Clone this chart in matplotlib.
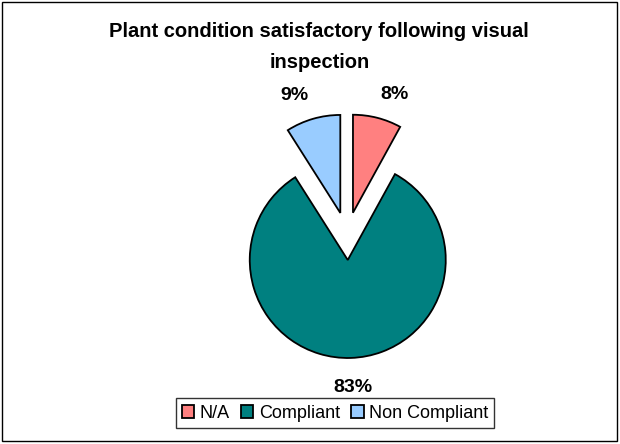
import matplotlib
matplotlib.use("Agg")
from matplotlib import pyplot as plt
from matplotlib.patches import Rectangle

plt.rcParams['font.family'] = ['Liberation Sans', 'DejaVu Sans']

labels = ['N/A', 'Compliant', 'Non Compliant']
values = [8, 83, 9]
colors = ['#FF8080', '#008080', '#99CCFF']
explode = [0.24, 0.24, 0.24]


def main():
    fig = plt.figure(figsize=(6.2, 4.44), dpi=100)
    fig.patches.append(Rectangle((0.003, 0.006), 0.992, 0.99, transform=fig.transFigure,
                                 fill=False, edgecolor='black', linewidth=1))

    # pie axes: 100 px per unit, centre at (347, 236) in image pixels
    ax = fig.add_axes([197 / 620, 58 / 444, 300 / 620, 300 / 444])
    wedges, _, autotexts = ax.pie(values, colors=colors, explode=explode, radius=0.98,
                                  startangle=90, counterclock=False,
                                  autopct='%1.0f%%', pctdistance=1.3,
                                  wedgeprops=dict(edgecolor='black', linewidth=1.3))
    for t in autotexts:
        t.set_fontsize(14)
        t.set_fontweight('bold')
        # excel spreads the labels a bit wider than matplotlib does
        x, y = t.get_position()
        t.set_position((x * 1.25, y - 0.05 if y > 0 else y))
    ax.set_xlim(-1.5, 1.5)
    ax.set_ylim(-1.5, 1.5)
    ax.set_aspect('equal')
    ax.axis('off')

    fig.text(0.515, 1 - 47 / 444, "Plant condition satisfactory following visual\ninspection",
             ha='center', va='center', fontsize=14.5, fontweight='bold', linespacing=1.75)

    leg = fig.legend(wedges, labels, loc='center', bbox_to_anchor=(335 / 620, 1 - 413 / 444),
                     ncol=3, frameon=True, fancybox=False, edgecolor='black', fontsize=13,
                     handlelength=0.7, handleheight=0.7, handletextpad=0.3, columnspacing=0.6,
                     borderpad=0.35, borderaxespad=0)
    leg.get_frame().set_linewidth(1)

    fig.savefig('out.png', dpi=100)


if __name__ == "__main__":
    main()
